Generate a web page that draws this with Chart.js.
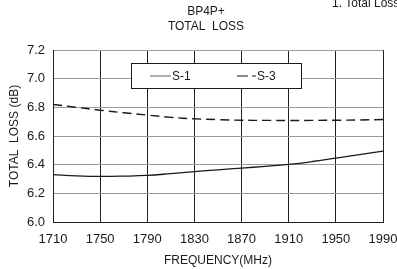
<!DOCTYPE html>
<html>
<head>
<meta charset="utf-8">
<script src="https://cdn.jsdelivr.net/npm/chart.js@4.4.0/dist/chart.umd.min.js"></script>
<style>
  html, body { margin: 0; padding: 0; background: #fff; }
  #wrap { width: 397px; height: 269px; }
</style>
</head>
<body>
<div id="wrap"><canvas id="myChart" width="397" height="269"></canvas></div>
<script>
// frequency points (MHz)
const freqs = [1710, 1730, 1750, 1770, 1790, 1810, 1830, 1850, 1870, 1890, 1910, 1930, 1950, 1970, 1990];
// total loss (dB)
const s1 = [6.33, 6.322, 6.318, 6.32, 6.325, 6.338, 6.352, 6.364, 6.376, 6.388, 6.402, 6.422, 6.446, 6.47, 6.495];
const s3 = [6.82, 6.80, 6.78, 6.762, 6.746, 6.73, 6.72, 6.714, 6.71, 6.709, 6.708, 6.709, 6.71, 6.712, 6.715];
const seriesNames = ['S-1', 'S-3'];
const xTicks = [1710, 1750, 1790, 1830, 1870, 1910, 1950, 1990];
const yTicks = [6.0, 6.2, 6.4, 6.6, 6.8, 7.0, 7.2];

const FONT = 'Liberation Sans, Arial, sans-serif';
const INK = '#1a1a1a';

// titles, caption and a boxed legend inside the plot
const decor = {
	id: 'decor',
	afterDraw(chart){
		const ctx = chart.ctx;
		const a = chart.chartArea;
		ctx.save();
		ctx.fillStyle = INK;
		ctx.textAlign = 'center';
		ctx.textBaseline = 'middle';
		ctx.font = '12px ' + FONT;
		ctx.fillText('BP4P+', 206, 12);
		ctx.fillText('TOTAL  LOSS', 206, 27);
		ctx.fillText('FREQUENCY(MHz)', (a.left + a.right) / 2, 261);

		ctx.textAlign = 'left';
		ctx.textBaseline = 'alphabetic';
		ctx.fillText('1. Total Loss', 332, 7);

		const x0 = a.left + 78, y0 = a.top + 13, w = 170, h = 25;
		ctx.fillStyle = '#fff';
		ctx.fillRect(x0, y0, w, h);
		ctx.strokeStyle = INK;
		ctx.lineWidth = 1;
		ctx.strokeRect(x0 + 0.5, y0 + 0.5, w, h);
		ctx.fillStyle = INK;
		ctx.textBaseline = 'middle';
		const cy = y0 + h / 2 + 0.5;
		const ds = chart.data.datasets;
		// S-1 sample
		ctx.beginPath();
		ctx.strokeStyle = '#777';
		ctx.lineWidth = 1.2;
		ctx.moveTo(x0 + 19, cy);
		ctx.lineTo(x0 + 40, cy);
		ctx.stroke();
		ctx.fillText(ds[0].label, x0 + 41, cy + 0.5);
		// S-3 sample
		ctx.beginPath();
		ctx.strokeStyle = INK;
		ctx.setLineDash([11, 4, 4, 100]);
		ctx.moveTo(x0 + 106, cy);
		ctx.lineTo(x0 + 125, cy);
		ctx.stroke();
		ctx.setLineDash([]);
		ctx.fillText(ds[1].label, x0 + 126, cy + 0.5);
		ctx.restore();
	}
};

const ctx = document.getElementById('myChart').getContext('2d');
const myChart = new Chart(ctx, {
	type: 'line',
	data: {
		datasets: [{
			label: seriesNames[0],
			data: freqs.map((f, i) => ({x: f, y: s1[i]})),
			borderColor: INK,
			borderWidth: 1.3,
			pointRadius: 0,
			tension: 0.4,
			fill: false
		},{
			label: seriesNames[1],
			data: freqs.map((f, i) => ({x: f, y: s3[i]})),
			borderColor: INK,
			borderWidth: 1.4,
			borderDash: [9, 5],
			pointRadius: 0,
			tension: 0.4,
			fill: false
		}]
	},
	options: {
		responsive: false,
		animation: false,
		layout: { padding: { left: 0, right: 0, top: 50, bottom: 0 } },
		plugins: {
			legend: { display: false },
			tooltip: { enabled: false },
			title: { display: false }
		},
		scales: {
			x: {
				type: 'linear',
				min: 1710,
				max: 1990,
				afterBuildTicks: function(axis){ axis.ticks = xTicks.map(v => ({value: v})); },
				afterFit: function(axis){ axis.height = 47; axis.paddingRight = 14; axis.paddingLeft = 0; },
				grid: { color: '#222', lineWidth: 1, drawTicks: false },
				border: { color: '#222' },
				ticks: { color: INK, padding: 10, font: { family: FONT, size: 13 }, maxRotation: 0, callback: v => String(v) }
			},
			y: {
				min: 6.0,
				max: 7.2,
				afterBuildTicks: function(axis){ axis.ticks = yTicks.map(v => ({value: v})); },
				afterFit: function(axis){ axis.width = 53; },
				grid: { color: '#9a9a9a', lineWidth: 1, drawTicks: false },
				border: { color: '#222' },
				ticks: { color: INK, padding: 8, font: { family: FONT, size: 13 }, callback: v => v.toFixed(1) },
				title: { display: true, text: 'TOTAL  LOSS (dB)', color: INK, font: { family: FONT, size: 12 }, padding: { top: 7, bottom: 2 } }
			}
		}
	},
	plugins: [decor]
});
</script>
</body>
</html>
